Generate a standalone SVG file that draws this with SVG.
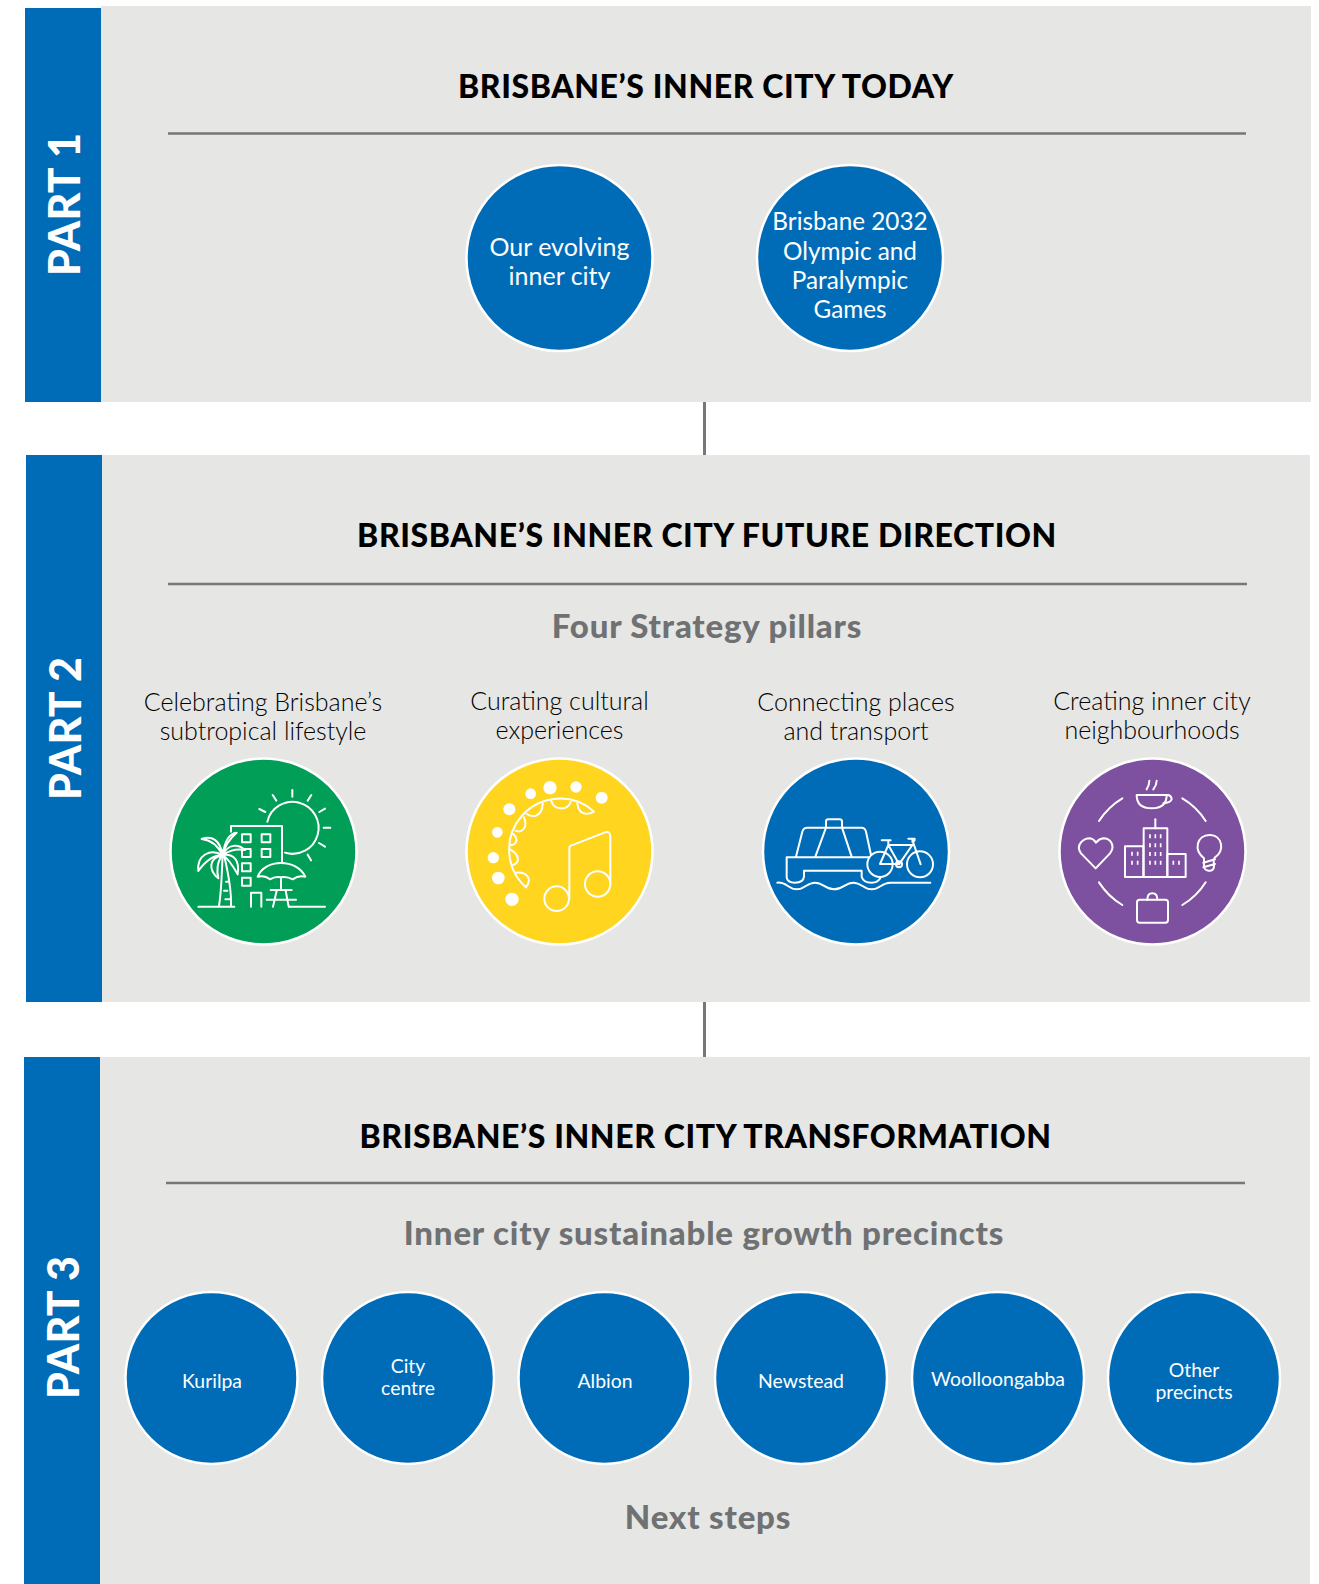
<svg xmlns="http://www.w3.org/2000/svg" width="1319" height="1584" viewBox="0 0 1319 1584">
<style>
text{font-family:"Lato","Open Sans","Liberation Sans",sans-serif}
.panel{fill:#e6e6e4}.band{fill:#006cb7}.rule{stroke:#757779;stroke-width:2.500;fill:none}
.part{fill:#fff;font-size:43px;font-weight:900;letter-spacing:.2px}
.title{fill:#000;font-size:32px;font-weight:900;text-anchor:middle;letter-spacing:.6px}
.sub{fill:#6f7173;font-size:33px;font-weight:900;text-anchor:middle;letter-spacing:.8px}
.lab{fill:#000;font-size:25px;font-weight:300;text-anchor:middle}
.cl{fill:#fff;font-size:24.300px;font-weight:400;text-anchor:middle}
.cs{fill:#fff;font-size:19.400px;font-weight:400;text-anchor:middle}
.disc{stroke:#fff;stroke-width:2.500}
.ic{fill:none;stroke:#fff;stroke-width:6;stroke-linecap:round;stroke-linejoin:round}
.d{fill:#fff}
</style>
<rect width="1319" height="1584" fill="#fff"/>
<g id="part1">
<rect class="panel" x="101" y="6" width="1210" height="396"/>
<rect class="band" x="25" y="8" width="76" height="394"/>
<text class="part" transform="translate(80,276) rotate(-90)">PART 1</text>
<text class="title" x="706" y="98">BRISBANE’S INNER CITY TODAY</text>
<line class="rule" x1="168" y1="133.500" x2="1246" y2="133.500"/>
</g>
<g id="part2">
<rect class="panel" x="102" y="455" width="1208" height="547"/>
<rect class="band" x="26" y="455" width="76" height="547"/>
<text class="part" transform="translate(81,800) rotate(-90)">PART 2</text>
<text class="title" x="707" y="546.500">BRISBANE’S INNER CITY FUTURE DIRECTION</text>
<line class="rule" x1="168" y1="584" x2="1247" y2="584"/>
<text class="sub" x="707" y="638">Four Strategy pillars</text>
</g>
<g id="part3">
<rect class="panel" x="100" y="1057" width="1210" height="527"/>
<rect class="band" x="24" y="1057" width="76" height="527"/>
<text class="part" transform="translate(79,1399) rotate(-90)">PART 3</text>
<text class="title" x="705.500" y="1147.500">BRISBANE’S INNER CITY TRANSFORMATION</text>
<line class="rule" x1="166" y1="1183" x2="1245" y2="1183"/>
<text class="sub" x="704" y="1245">Inner city sustainable growth precincts</text>
<text class="sub" x="708" y="1529">Next steps</text>
</g>
<g id="connectors">
<line x1="704.500" y1="402" x2="704.500" y2="455" stroke="#757779" stroke-width="3"/>
<line x1="704.500" y1="1002" x2="704.500" y2="1057" stroke="#757779" stroke-width="3"/>
</g>
<g id="n-evolving"><circle class="disc band" cx="559.500" cy="258" r="93"/><text class="cl" style="font-size:25px" x="559.500" y="255.500">Our evolving</text><text class="cl" style="font-size:25px" x="559.500" y="284.500">inner city</text></g>
<g id="n-olympic"><circle class="disc band" cx="850" cy="258" r="93"/><text class="cl"><tspan x="850" y="230">Brisbane 2032</tspan><tspan x="850" y="260">Olympic and</tspan><tspan x="850" y="289">Paralympic</tspan><tspan x="850" y="318">Games</tspan></text></g>
<g id="n-subtropical">
<text class="lab"><tspan x="263" y="710.500">Celebrating Brisbane’s</tspan><tspan x="263" y="739.500">subtropical lifestyle</tspan></text>
<circle class="disc" fill="#009e57" cx="263.500" cy="851.500" r="93"/>
<g transform="translate(150,740) scale(.33333)" class="ic">
<path d="M352,245A78,78 0 1 1 405,338M427,150V170M368,165L379,182M328,207L346,216M484,165L473,182M525,206L508,216M521,263H541M507,309L525,320M473,344L483,361"/>
<path d="M243,275V258H396V365M145,500H253M417,500H525M303,500V458H334V500"/>
<rect x="276" y="283" width="26" height="24"/><rect x="335" y="283" width="26" height="24"/><rect x="276" y="327" width="26" height="24"/><rect x="335" y="327" width="26" height="24"/><rect x="276" y="370" width="26" height="24"/><rect x="276" y="413" width="26" height="24"/>
<path d="M323,410C345,355 440,355 466,410Q445,405 428,418Q410,408 393,412Q375,408 360,418Q345,405 323,410ZM393,412V450M362,450H425M350,479H438M380,452L369,500M407,452L416,500"/>
<path d="M218,345C215,400 215,450 207,498M222,345C235,400 245,450 243,498M228,425H236M222,452H232M226,478H240"/>
<path d="M155,297C185,285 210,300 218,345C205,320 185,300 155,297ZM145,393C140,345 180,325 218,345C190,345 165,365 145,393ZM205,415C175,390 175,355 218,345C200,365 200,395 205,415ZM263,403C270,360 250,340 218,345C235,355 250,380 263,403ZM218,345C225,295 240,280 260,278C240,295 225,315 218,345ZM218,345C235,310 265,312 285,330C260,325 240,330 218,345Z"/>
</g></g>
<g id="n-cultural">
<text class="lab"><tspan x="559.500" y="710">Curating cultural</tspan><tspan x="559.500" y="739">experiences</tspan></text>
<circle class="disc" fill="#ffd520" cx="559.500" cy="851.500" r="93"/>
<g transform="translate(150,740) scale(.33333)">
<g class="d"><circle cx="1086" cy="478" r="20"/><circle cx="1045" cy="414" r="19"/><circle cx="1030" cy="353" r="17"/><circle cx="1042" cy="277" r="16"/><circle cx="1078" cy="208" r="18"/><circle cx="1142" cy="161" r="16"/><circle cx="1200" cy="143" r="20"/><circle cx="1278" cy="141" r="17"/><circle cx="1355" cy="173" r="18"/></g>
<g class="ic"><path d="M1128,442A152,152 0 0 1 1332,215C1310,228 1285,222 1282,190M1262,186C1255,212 1212,212 1204,183M1178,190C1178,228 1150,235 1130,222M1122,232C1135,262 1115,280 1097,272M1090,282C1108,298 1098,315 1082,315M1080,328C1112,345 1108,370 1088,375M1097,398C1130,395 1148,415 1128,442"/>
<circle cx="1220" cy="476" r="37"/><circle cx="1343" cy="432" r="38"/>
<path d="M1258,476V325Q1258,318 1265,316L1365,277Q1380,272 1381,290V432"/></g>
</g></g>
<g id="n-transport">
<text class="lab"><tspan x="856" y="710.500">Connecting places</tspan><tspan x="856" y="739.500">and transport</tspan></text>
<circle class="disc band" cx="856" cy="851.500" r="93"/>
<g transform="translate(750,740) scale(.33333)" class="ic">
<path d="M138,350L157,275Q160,263 172,263H335Q345,263 348,275L363,345M228,263V245Q228,238 235,238H268Q276,238 276,245V263M196,350L228,263M305,350L276,263M358,352H110V412Q112,428 135,428Q160,428 162,410V392H335V410Q340,428 365,428Q385,428 392,412"/>
<path d="M82,428C110,425 115,448 140,448C165,448 170,428 195,428C220,428 225,448 252,448C280,448 285,428 310,428C335,428 340,448 365,448C390,448 395,428 420,428H541"/>
<circle cx="390" cy="373" r="38"/><circle cx="510" cy="373" r="39"/><circle cx="447" cy="373" r="9"/>
<path d="M390,372H447L415,315L390,372M447,373L487,315H415M487,300L512,373M395,301H422M415,301V315M475,296H494Q495,305 487,305"/>
</g></g>
<g id="n-neighbourhoods">
<text class="lab"><tspan x="1152" y="710">Creating inner city</tspan><tspan x="1152" y="739">neighbourhoods</tspan></text>
<circle class="disc" fill="#7d51a0" cx="1152.500" cy="851.500" r="93"/>
<g transform="translate(750,740) scale(.33333)" class="ic">
<path d="M1047,243Q1075,200 1117,175M1297,175Q1340,200 1367,243M1047,427Q1075,470 1117,495M1297,495Q1340,470 1367,427"/>
<path d="M1160,165H1250Q1250,205 1205,205Q1160,205 1160,165ZM1248,165H1255Q1265,168 1265,178Q1262,188 1240,190M1190,148Q1198,135 1198,122M1210,148Q1220,135 1220,122"/>
<rect x="1125" y="319" width="55" height="92"/><rect x="1181" y="265" width="71" height="146"/><rect x="1252" y="342" width="55" height="69"/>
<path d="M1216,238V265"/>
<path stroke-width="5" stroke-linecap="butt" d="M1200,283V295M1216,283V295M1232,283V295M1200,310V322M1216,310V322M1232,310V322M1200,336V348M1216,336V348M1232,336V348M1200,362V374M1216,362V374M1232,362V374M1146,335V347M1163,335V347M1146,362V374M1163,362V374M1270,362V374M1287,362V374"/>
<path d="M1037,385L993,340C975,315 1000,295 1020,295Q1030,296 1038,308Q1048,296 1060,295C1080,295 1098,315 1080,340Z"/>
<path d="M1362,355C1330,330 1340,285 1379,285C1418,285 1425,335 1395,352C1388,358 1392,370 1392,380Q1390,394 1375,392Q1360,390 1362,375ZM1360,368L1395,358M1360,382L1395,372"/>
<rect x="1161" y="479" width="93" height="69" rx="8"/><path d="M1192,479Q1192,460 1207,460Q1222,460 1222,479"/>
</g></g>
<g id="n-kurilpa"><circle class="disc band" cx="211.500" cy="1378" r="86"/><text class="cs" x="212" y="1388">Kurilpa</text></g>
<g id="n-city"><circle class="disc band" cx="408" cy="1378" r="86"/><text class="cs"><tspan x="408" y="1373">City</tspan><tspan x="408" y="1395">centre</tspan></text></g>
<g id="n-albion"><circle class="disc band" cx="604.500" cy="1378" r="86"/><text class="cs" x="605" y="1388">Albion</text></g>
<g id="n-newstead"><circle class="disc band" cx="801" cy="1378" r="86"/><text class="cs" x="801" y="1388">Newstead</text></g>
<g id="n-woolloongabba"><circle class="disc band" cx="998" cy="1378" r="86"/><text class="cs" x="998" y="1386">Woolloongabba</text></g>
<g id="n-other"><circle class="disc band" cx="1194" cy="1378" r="86"/><text class="cs"><tspan x="1194" y="1377">Other</tspan><tspan x="1194" y="1399">precincts</tspan></text></g>
</svg>
